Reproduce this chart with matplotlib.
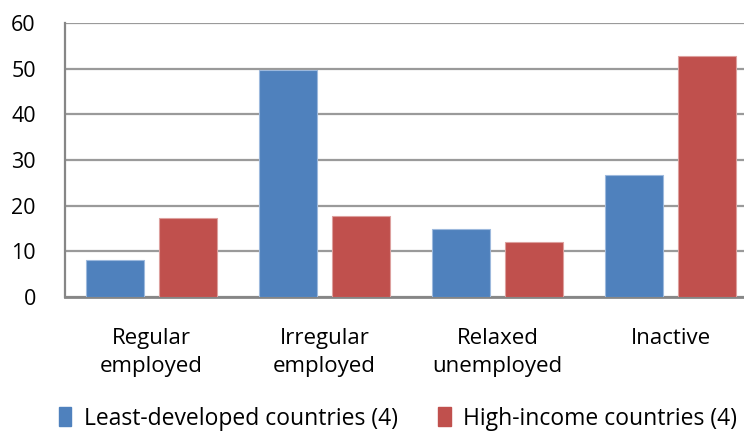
import numpy as np
import matplotlib.pyplot as plt
from matplotlib.patches import Patch

# data
categories = ['Regular\nemployed', 'Irregular\nemployed', 'Relaxed\nunemployed', 'Inactive']
least_developed = [8.0, 49.7, 15.0, 26.8]
high_income = [17.2, 17.7, 12.0, 52.7]
series_names = ['Least-developed countries (4)', 'High-income countries (4)']
yticks = [0, 10, 20, 30, 40, 50, 60]

blue = '#4F81BD'
red = '#C0504D'

plt.rcParams['font.family'] = ['Open Sans', 'DejaVu Sans']

fig = plt.figure(figsize=(7.44, 4.34), dpi=100)
# plot area runs past the right edge, like the cropped original
ax = fig.add_axes([65 / 744, 1 - 297 / 434, 692 / 744, 274 / 434])

x = np.arange(len(categories))
w = 0.335
ax.bar(x - 0.21, least_developed, w, color=blue, edgecolor='#9DB9DD', linewidth=0.8, zorder=3)
ax.bar(x + 0.21, high_income, w, color=red, edgecolor='#DDA09E', linewidth=0.8, zorder=3)

ax.set_xlim(-0.5, len(categories) - 0.5)
ax.set_ylim(0, 60)
ax.set_yticks(yticks)
ax.yaxis.grid(True, color='#9A9A9A', linewidth=1.6, zorder=0)
ax.set_axisbelow(True)

for s in ['top', 'right']:
    ax.spines[s].set_visible(False)
ax.spines['left'].set_color('#868686')
ax.spines['left'].set_linewidth(1.6)
ax.spines['bottom'].set_color('#868686')
ax.spines['bottom'].set_linewidth(2)

ax.set_xticks(x)
ax.set_xticklabels(categories, fontsize=16, linespacing=1.45)
ax.tick_params(axis='x', length=0, pad=22)
ax.tick_params(axis='y', length=0, pad=21, labelsize=15.5)

handles = [Patch(color=blue), Patch(color=red)]
fig.legend(handles, series_names, loc='lower center', bbox_to_anchor=(0.535, -0.04),
           ncol=2, frameon=False, fontsize=16.5, handlelength=0.55, handleheight=0.9,
           handletextpad=0.55, columnspacing=1.75)

fig.savefig('out.png', dpi=100)
